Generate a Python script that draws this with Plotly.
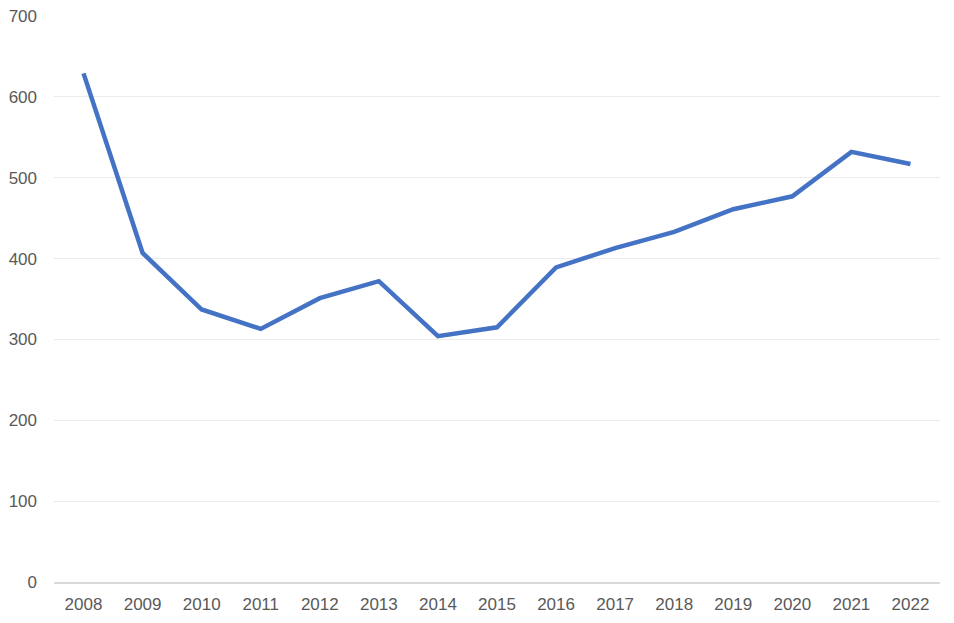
import plotly.graph_objects as go

years = ["2008", "2009", "2010", "2011", "2012", "2013", "2014", "2015",
         "2016", "2017", "2018", "2019", "2020", "2021", "2022"]
values = [629, 407, 337, 313, 351, 372, 304, 315, 389, 413, 433, 461, 477, 532, 517]
y_ticks = [0, 100, 200, 300, 400, 500, 600, 700]

fig = go.Figure()
fig.add_trace(go.Scatter(
    x=years, y=values, mode="lines",
    line=dict(color="#4472C4", width=4.5),
    hoverinfo="x+y",
))

fig.update_layout(
    width=954, height=623,
    margin=dict(l=54, r=14, t=16, b=41, autoexpand=False),
    paper_bgcolor="white", plot_bgcolor="white",
    showlegend=False,
    font=dict(family="Liberation Sans, Arial, sans-serif", size=17, color="#595959"),
    xaxis=dict(
        type="category", range=[-0.5, len(years) - 0.5],
        showgrid=False, zeroline=False,
        showline=True, linecolor="#D9D9D9", linewidth=1.5,
        ticks="", ticklabelstandoff=6,
        tickfont=dict(size=17, color="#595959"),
    ),
    yaxis=dict(
        range=[0, 700], tickvals=y_ticks,
        showgrid=True, gridcolor="#EBEBEB", gridwidth=1,
        zeroline=False, showline=False,
        ticks="", ticklabelstandoff=16,
        tickfont=dict(size=17, color="#595959"),
    ),
)

fig.write_html(
    "out.html",
    config={"displayModeBar": False},
    post_script="document.body.style.margin='0';document.body.style.overflow='hidden';",
)
